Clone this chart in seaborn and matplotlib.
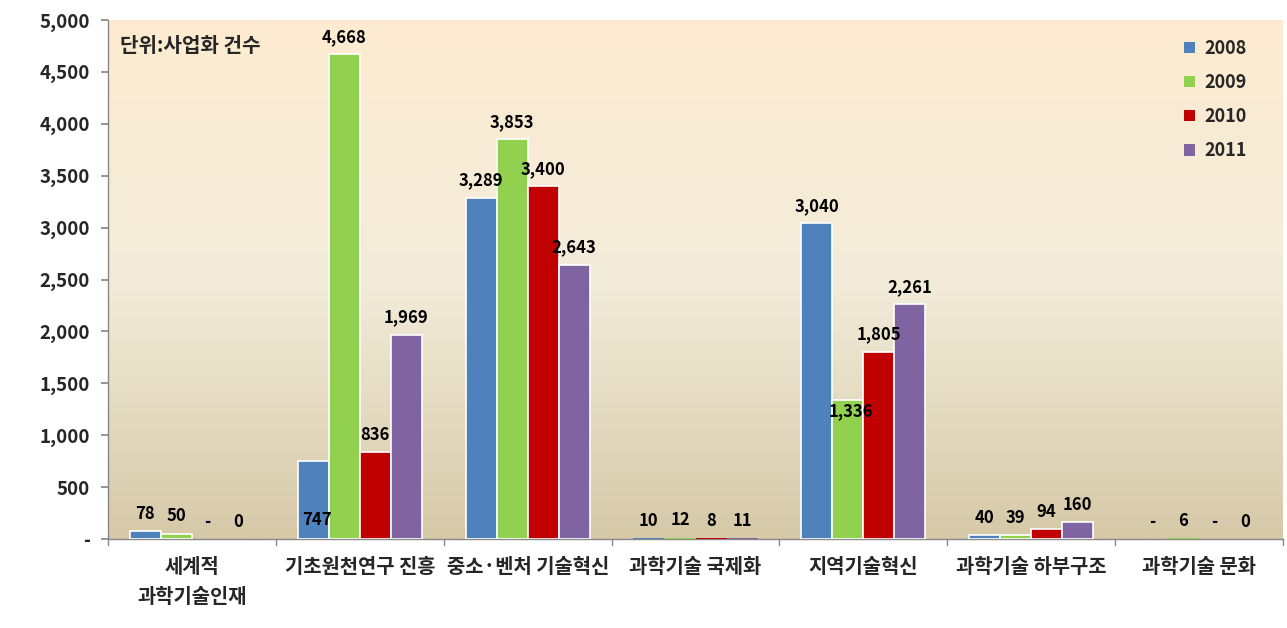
import numpy as np
import pandas as pd
import matplotlib
matplotlib.use("Agg")
import matplotlib.pyplot as plt
from matplotlib.patches import Patch
import seaborn as sns
from matplotlib.colors import LinearSegmentedColormap

categories = ["세계적\n과학기술인재", "기초원천연구 진흥", "중소·벤처 기술혁신", "과학기술 국제화",
              "지역기술혁신", "과학기술 하부구조", "과학기술 문화"]
years = ["2008", "2009", "2010", "2011"]
v2008 = [78, 747, 3289, 10, 3040, 40, np.nan]
v2009 = [50, 4668, 3853, 12, 1336, 39, 6]
v2010 = [np.nan, 836, 3400, 8, 1805, 94, np.nan]
v2011 = [0, 1969, 2643, 11, 2261, 160, 0]
yticks = [0, 500, 1000, 1500, 2000, 2500, 3000, 3500, 4000, 4500, 5000]
colors = ["#4F81BD", "#92D050", "#C00000", "#8064A2"]

series = [v2008, v2009, v2010, v2011]
rows = []
for y, vals in zip(years, series):
    for c, v in zip(categories, vals):
        rows.append({"category": c, "year": y, "value": v})
df = pd.DataFrame(rows)

sns.set_theme(style="white")
plt.rcParams['font.family'] = ['Noto Sans CJK KR', 'DejaVu Sans']
plt.rcParams['font.weight'] = 'bold'
W = "bold"

fig = plt.figure(figsize=(12.87, 6.28), dpi=100)
ax = fig.add_axes([108/1287, (628-539)/628, (1283-108)/1287, (539-20)/628])

width = 0.74
sns.barplot(data=df, x="category", y="value", hue="year", order=categories, hue_order=years,
            palette=colors, width=width, gap=0, edgecolor="white", linewidth=1.2,
            saturation=1, ax=ax, zorder=3, legend=False, errorbar=None)
for p in ax.patches:
    h = p.get_height()
    if h is None or np.isnan(h) or h < 20:
        p.set_linewidth(0)

ax.set_xlim(-0.5, len(categories) - 0.5)
ax.set_ylim(0, 5000)

# background gradient
cmap = LinearSegmentedColormap.from_list("bg", [(0, "#D6C9A8"), (0.5, "#F3ECDA"), (1.0, "#FDEBD0")])
grad = np.linspace(0, 1, 256).reshape(-1, 1)
ax.imshow(grad, extent=[-0.5, len(categories) - 0.5, 0, 5000], origin="lower",
          aspect="auto", cmap=cmap, zorder=0)

# data labels
bw = width / 4
adjust = {(1, 0): 180, (4, 1): 1230}
for si, vals in enumerate(series):
    for ci, v in enumerate(vals):
        x = ci - width / 2 + bw * (si + 0.5)
        if np.isnan(v):
            txt = "-"
            yv = 0
        else:
            txt = f"{int(v):,}"
            yv = v
        if (ci, si) in adjust:
            ax.text(x + 0.02, adjust[(ci, si)], txt, ha="center", va="center", fontsize=12,
                    fontweight=W, color="black", zorder=5)
        else:
            ax.annotate(txt, (x, yv), xytext=(0, 6), textcoords="offset points",
                        ha="center", va="bottom", fontsize=12, fontweight=W,
                        color="black", zorder=5)

ax.set_yticks(yticks)
ax.set_yticklabels(["-" if t == 0 else f"{t:,}" for t in yticks], fontsize=13.5, fontweight=W)
ax.set_xticks(range(len(categories)))
ax.set_xticklabels(categories, fontsize=14.3, fontweight=W, linespacing=1.55)
ax.tick_params(axis="x", length=0, pad=12)
ax.tick_params(axis="y", length=5, direction="out", color="#888888", pad=8, left=True)
# category boundary ticks
for b in np.arange(-0.5, len(categories) + 0.5, 1):
    ax.plot([b, b], [0, -60], color="#888888", lw=1, clip_on=False, zorder=4)

for s in ["top", "right"]:
    ax.spines[s].set_visible(False)
for s in ["left", "bottom"]:
    ax.spines[s].set_color("#888888")
    ax.spines[s].set_linewidth(1)
ax.set_xlabel("")
ax.set_ylabel("")
ax.grid(False)

ax.text(0.01, 0.95, "단위:사업화 건수", transform=ax.transAxes, fontsize=14.5, fontweight=W,
        ha="left", va="center", zorder=6)

handles = [Patch(facecolor=c, edgecolor="none", label=y) for c, y in zip(colors, years)]
leg = ax.legend(handles=handles, loc="upper right", bbox_to_anchor=(0.975, 0.978), frameon=False,
                fontsize=13, handlelength=0.6, handleheight=0.6, labelspacing=0.84,
                handletextpad=0.5, borderaxespad=0)
for t in leg.get_texts():
    t.set_fontweight(W)

fig.savefig("out.png", dpi=100)
